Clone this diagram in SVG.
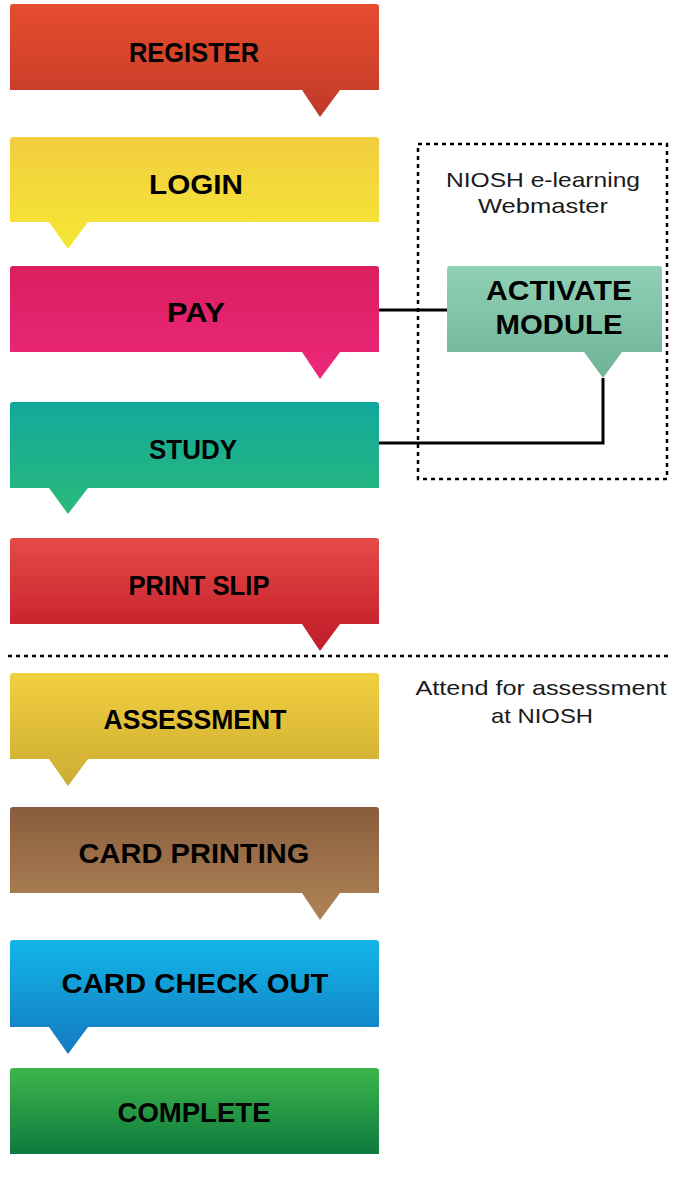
<svg xmlns="http://www.w3.org/2000/svg" width="674" height="1186" viewBox="0 0 674 1186">
<style>
.lbl{font-family:"Liberation Sans",Arial,sans-serif;font-weight:bold;font-size:28px;fill:#000;text-anchor:middle}
.act{font-family:"Liberation Sans",Arial,sans-serif;font-weight:bold;font-size:27px;fill:#000;text-anchor:middle}
.note{font-family:"Liberation Sans",Arial,sans-serif;font-size:21px;fill:#1a1a1a;text-anchor:middle}
.conn{fill:none;stroke:#000;stroke-width:3}
.dash{fill:none;stroke:#000;stroke-width:2.5;stroke-dasharray:4 4}
</style>
<defs>
<linearGradient id="gReg" x1="0" y1="0" x2="0" y2="1"><stop offset="0" stop-color="#e64c2e"/><stop offset="0.76" stop-color="#cb3f2a"/><stop offset="1" stop-color="#c03727"/></linearGradient>
<linearGradient id="gLog" x1="0" y1="0" x2="0" y2="1"><stop offset="0" stop-color="#f2cd3f"/><stop offset="1" stop-color="#f5e834"/></linearGradient>
<linearGradient id="gPay" x1="0" y1="0" x2="0" y2="1"><stop offset="0" stop-color="#da1e5e"/><stop offset="1" stop-color="#ec287c"/></linearGradient>
<linearGradient id="gStu" x1="0" y1="0" x2="0" y2="1"><stop offset="0" stop-color="#11a99c"/><stop offset="1" stop-color="#2bb97a"/></linearGradient>
<linearGradient id="gPri" x1="0" y1="0" x2="0" y2="1"><stop offset="0" stop-color="#e64b48"/><stop offset="0.76" stop-color="#c9242f"/><stop offset="1" stop-color="#bf1d30"/></linearGradient>
<linearGradient id="gAss" x1="0" y1="0" x2="0" y2="1"><stop offset="0" stop-color="#f1d03f"/><stop offset="1" stop-color="#cdab33"/></linearGradient>
<linearGradient id="gCar" x1="0" y1="0" x2="0" y2="1"><stop offset="0" stop-color="#895d3d"/><stop offset="1" stop-color="#ae8456"/></linearGradient>
<linearGradient id="gChk" x1="0" y1="0" x2="0" y2="1"><stop offset="0" stop-color="#12b6e9"/><stop offset="1" stop-color="#1479be"/></linearGradient>
<linearGradient id="gCom" x1="0" y1="0" x2="0" y2="1"><stop offset="0" stop-color="#3db64b"/><stop offset="1" stop-color="#0e7a3f"/></linearGradient>
<linearGradient id="gAct" x1="0" y1="0" x2="0" y2="1"><stop offset="0" stop-color="#90d1b6"/><stop offset="1" stop-color="#6fb397"/></linearGradient>
</defs>

<g id="connectors">
<path class="conn" d="M379,310 H447"/>
<path class="conn" d="M603,378 V443 H379" stroke-width="2.5"/>
<rect class="dash" x="418" y="144" width="249" height="335"/>
<path class="dash" d="M8,656 H668" stroke-width="3"/>
</g>

<g id="register">
<path fill="url(#gReg)" d="M10,7 Q10,4 13,4 H376 Q379,4 379,7 V90 H340 L320,117 L302,90 H10 Z"/>
<text class="lbl" x="194" y="62" textLength="130" lengthAdjust="spacingAndGlyphs">REGISTER</text>
</g>
<g id="login">
<path fill="url(#gLog)" d="M10,140 Q10,137 13,137 H376 Q379,137 379,140 V222 H88 L68,249 L49,222 H10 Z"/>
<text class="lbl" x="196" y="194" textLength="94" lengthAdjust="spacingAndGlyphs">LOGIN</text>
</g>
<g id="pay">
<path fill="url(#gPay)" d="M10,269 Q10,266 13,266 H376 Q379,266 379,269 V352 H340 L320,379 L302,352 H10 Z"/>
<text class="lbl" x="196" y="322" textLength="58" lengthAdjust="spacingAndGlyphs">PAY</text>
</g>
<g id="study">
<path fill="url(#gStu)" d="M10,405 Q10,402 13,402 H376 Q379,402 379,405 V488 H88 L68,514 L49,488 H10 Z"/>
<text class="lbl" x="193" y="459" textLength="88" lengthAdjust="spacingAndGlyphs">STUDY</text>
</g>
<g id="print-slip">
<path fill="url(#gPri)" d="M10,541 Q10,538 13,538 H376 Q379,538 379,541 V624 H340 L320,651 L302,624 H10 Z"/>
<text class="lbl" x="199" y="595" textLength="141" lengthAdjust="spacingAndGlyphs">PRINT SLIP</text>
</g>
<g id="assessment">
<path fill="url(#gAss)" d="M10,676 Q10,673 13,673 H376 Q379,673 379,676 V759 H88 L68,786 L49,759 H10 Z"/>
<text class="lbl" x="195" y="729" textLength="183" lengthAdjust="spacingAndGlyphs">ASSESSMENT</text>
</g>
<g id="card-printing">
<path fill="url(#gCar)" d="M10,810 Q10,807 13,807 H376 Q379,807 379,810 V893 H340 L320,920 L302,893 H10 Z"/>
<text class="lbl" x="194" y="863" textLength="231" lengthAdjust="spacingAndGlyphs">CARD PRINTING</text>
</g>
<g id="card-check-out">
<path fill="url(#gChk)" d="M10,943 Q10,940 13,940 H376 Q379,940 379,943 V1027 H88 L68,1054 L49,1027 H10 Z"/>
<text class="lbl" x="195" y="993" textLength="267" lengthAdjust="spacingAndGlyphs">CARD CHECK OUT</text>
</g>
<g id="complete">
<path fill="url(#gCom)" d="M10,1071 Q10,1068 13,1068 H376 Q379,1068 379,1071 V1154 H10 Z"/>
<text class="lbl" x="194" y="1122" textLength="153" lengthAdjust="spacingAndGlyphs">COMPLETE</text>
</g>

<g id="activate-module">
<path fill="url(#gAct)" d="M447,269 Q447,266 450,266 H659 Q662,266 662,269 V352 H622 L603,378 L584,352 H447 Z"/>
<text class="act" x="559" y="300" textLength="146" lengthAdjust="spacingAndGlyphs">ACTIVATE</text>
<text class="act" x="559" y="334" textLength="127" lengthAdjust="spacingAndGlyphs">MODULE</text>
</g>

<g id="webmaster-label">
<text class="note" x="543" y="187" textLength="194" lengthAdjust="spacingAndGlyphs">NIOSH e-learning</text>
<text class="note" x="543" y="213" textLength="130" lengthAdjust="spacingAndGlyphs">Webmaster</text>
</g>
<g id="assessment-note">
<text class="note" x="541" y="695" textLength="251" lengthAdjust="spacingAndGlyphs">Attend for assessment</text>
<text class="note" x="542" y="723" textLength="102" lengthAdjust="spacingAndGlyphs">at NIOSH</text>
</g>
</svg>
